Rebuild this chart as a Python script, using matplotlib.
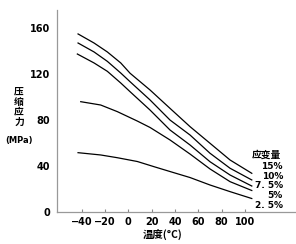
import numpy as np
import matplotlib
matplotlib.use('Agg')
import matplotlib.pyplot as plt

plt.rcParams['font.family'] = ['Noto Sans CJK SC', 'DejaVu Sans']

# temperature (C) and compressive stress (MPa) for each strain level,
# read off the picture
t15 = [-43.1, -29.4, -18.0, -6.5, 1.5, 18.6, 35.7, 52.9, 70.0, 87.2, 105.8]
s15 = [155.1, 147.2, 139.4, 129.8, 120.8, 106.2, 90.2, 74.2, 59.7, 45.1, 33.5]

t10 = [-43.1, -29.4, -18.0, -6.5, 1.5, 18.6, 35.7, 52.9, 70.0, 87.2, 105.8]
s10 = [147.2, 139.4, 131.2, 121.0, 113.4, 97.5, 80.0, 66.9, 51.0, 37.9, 27.7]

t75 = [-43.7, -29.4, -18.0, -6.5, 1.5, 18.6, 35.7, 52.9, 70.0, 87.2, 105.8]
s75 = [137.6, 129.8, 122.5, 112.3, 104.7, 88.7, 71.3, 58.2, 43.6, 32.0, 22.4]

t5 = [-40.8, -23.7, -9.4, 7.7, 18.6, 35.7, 52.9, 70.0, 87.2, 105.8]
s5 = [96.0, 93.1, 87.3, 79.1, 73.5, 62.6, 50.3, 37.3, 26.2, 18.5]

t25 = [-43.1, -23.7, -9.4, 7.7, 22.9, 37.2, 52.9, 70.0, 87.2, 105.8]
s25 = [51.5, 49.5, 47.1, 43.8, 39.0, 34.6, 29.8, 23.3, 17.5, 11.5]

strain_labels = ['15%', '10%', '7. 5%', '5%', '2. 5%']
xticks = [-40, -20, 0, 20, 40, 60, 80, 100]
yticks = [0, 40, 80, 120, 160]

W, H = 296, 244


def fx(px):
    return px / W


def fy(py):
    return 1 - py / H


fig = plt.figure(figsize=(W / 100, H / 100), dpi=100)
ax = fig.add_axes([fx(56.7), fy(211.7), 1 - fx(56.7), fy(10) - fy(211.7)])

for xs, ys in [(t15, s15), (t10, s10), (t75, s75), (t5, s5), (t25, s25)]:
    ax.plot(xs, ys, color='black', lw=0.9, solid_joinstyle='round')

ax.set_xlim(-61.4, 143.7)
ax.set_ylim(0, 176)
ax.set_xticks(xticks)
ax.set_yticks(yticks)
ax.tick_params(axis='x', direction='in', length=2.5, width=0.8, color='#888888',
               pad=4, labelsize=7)
ax.tick_params(axis='y', length=0, pad=5, labelsize=7)
for lab in ax.get_xticklabels() + ax.get_yticklabels():
    lab.set_fontweight('bold')
    lab.set_family('DejaVu Sans')
for s in ['top', 'right']:
    ax.spines[s].set_visible(False)
for s in ['left', 'bottom']:
    ax.spines[s].set_color('#999999')
    ax.spines[s].set_linewidth(0.9)

# axis titles
fig.text(fx(19), fy(106.7), '压\n缩\n应\n力', ha='center', va='center',
         fontsize=7, fontweight='bold', linespacing=1.05)
fig.text(fx(19), fy(140), '(MPa)', ha='center', va='center',
         fontsize=6, fontweight='bold', family='DejaVu Sans')
fig.text(fx(163), fy(235), '温度(°C)', ha='center', va='center',
         fontsize=7.5, fontweight='bold')

# strain labels
fig.text(fx(266.7), fy(155), '应变量', ha='center', va='center',
         fontsize=7, fontweight='bold')
for i, lab in enumerate(strain_labels):
    fig.text(fx(283), fy(166.7 + 9.6 * i), lab, ha='right', va='center',
             fontsize=6.5, fontweight='bold', family='DejaVu Sans')

fig.savefig('out.png', dpi=100)
